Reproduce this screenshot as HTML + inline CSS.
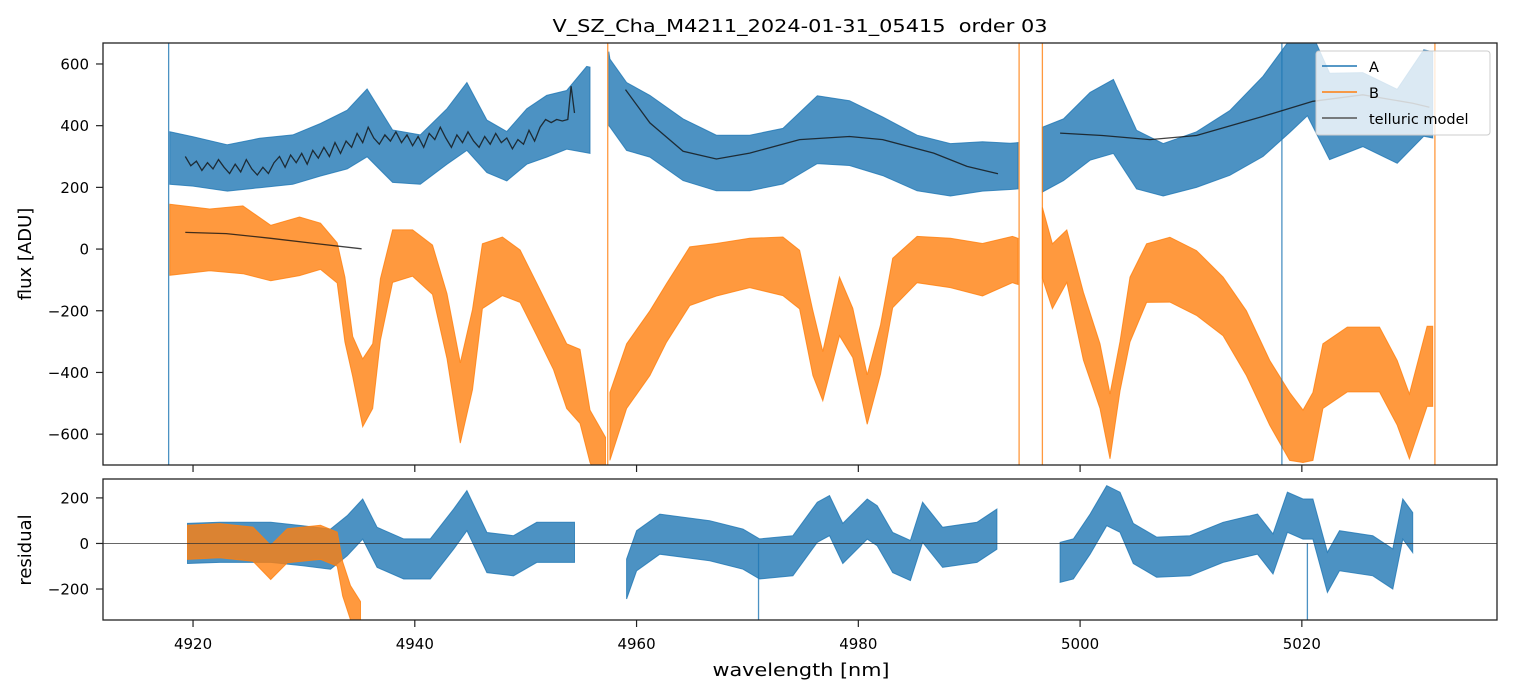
<!DOCTYPE html>
<html><head><meta charset="utf-8"><style>
body{margin:0;background:#fff;}
svg{display:block;font-family:"DejaVu Sans","Liberation Sans",sans-serif;}
</style></head><body>
<svg id="chart" width="1513" height="696" viewBox="0 0 1513 696">
<defs>
<clipPath id="cTop"><rect x="103" y="43" width="1394" height="422"/></clipPath>
<clipPath id="cBot"><rect x="103" y="479" width="1394" height="141"/></clipPath>
</defs>
<text x="800" y="32" font-size="18" text-anchor="middle" textLength="495" lengthAdjust="spacingAndGlyphs" xml:space="preserve">V_SZ_Cha_M4211_2024-01-31_05415  order 03</text>
<g id="gTop" clip-path="url(#cTop)"></g>
<g id="gBot" clip-path="url(#cBot)"></g>
<g id="axes"></g>
<text transform="translate(31,254) rotate(-90)" font-size="18" text-anchor="middle">flux [ADU]</text>
<text transform="translate(31,550) rotate(-90)" font-size="18" text-anchor="middle">residual</text>
<text x="801" y="676" font-size="18" text-anchor="middle" textLength="177" lengthAdjust="spacingAndGlyphs">wavelength [nm]</text>
<g>
<rect x="1316" y="51" width="174" height="84" fill="#fff" fill-opacity="0.8" stroke="#ccc" rx="3"/>
<line x1="1322" y1="66" x2="1357" y2="66" stroke="#1f77b4" stroke-width="1.5"/>
<text x="1369" y="72" font-size="14.5">A</text>
<line x1="1322" y1="92" x2="1357" y2="92" stroke="#ff7f0e" stroke-width="1.5"/>
<text x="1369" y="98" font-size="14.5">B</text>
<line x1="1322" y1="118" x2="1357" y2="118" stroke="#555" stroke-width="1.5"/>
<text x="1369" y="124" font-size="14.5">telluric model</text>
</g>
</svg>
<script>
// Series A flux (nm, ADU, noise half-width); null splits segments
const aWave = [4917.9,4920,4923.1,4926,4929,4931.5,4933.9,4935.7,4938,4940.5,4942.9,4944.7,4946.5,4948.3,4950.1,4951.9,4953.7,4955.5,4955.8,null,4957.5,4957.6,4959.1,4961.2,4964.2,4967.2,4970.2,4973.2,4976.3,4979.2,4982.2,4985.3,4988.3,4991.2,4993.7,4994.4,null,4996.6,4998.5,5000.9,5003,5005.1,5007.5,5010.5,5013.5,5016.5,5018.9,5020.5,5022.5,5025.5,5028.6,5031,5031.8];
const aFlux = [295,284,263,279,290,322,355,409,301,290,365,430,333,301,365,398,419,452,450,null,520,506,430,398,322,279,279,301,387,376,333,279,257,268,268,270,null,290,322,398,430,290,257,290,344,430,528,582,430,452,398,506,500];
const aSpread = [85,80,75,80,80,85,95,110,85,80,90,110,85,80,90,100,95,140,140,null,120,110,110,100,100,90,90,90,110,105,95,90,85,80,75,75,null,105,100,110,120,95,85,90,105,130,150,150,140,120,120,140,140];
// Series B flux
const bWave = [4917.9,4921.5,4924.5,4927,4929.6,4931.5,4933,4933.7,4934.4,4935.3,4936.2,4936.9,4938,4939.8,4941.6,4942.9,4944.1,4945.2,4946.1,4947.9,4949.5,4951,4952.5,4953.7,4954.9,4955.8,4957.2,null,4957.6,4959.1,4961.2,4962.7,4964.8,4967.2,4970.2,4973.2,4974.7,4975.9,4976.8,4978.3,4979.5,4980.8,4982,4983.1,4985.3,4988.3,4991.2,4993.9,4994.4,null,4996.6,4997.5,4998.8,5000.3,5001.8,5002.7,5003.6,5004.5,5006,5008.1,5010.5,5012.9,5015,5017.1,5018.9,5020.1,5021,5021.9,5024.1,5027,5028.6,5029.7,5031.3,5031.8];
const bFlux = [30,30,30,-13,9,9,-45,-196,-348,-466,-412,-196,-23,-13,-67,-250,-499,-326,-88,-56,-88,-196,-305,-412,-445,-607,-700,null,-575,-412,-305,-207,-88,-67,-45,-56,-99,-305,-412,-186,-272,-488,-326,-110,-34,-45,-67,-34,-40,null,20,-88,-23,-250,-412,-575,-380,-196,-78,-67,-110,-186,-305,-466,-575,-607,-575,-412,-358,-358,-466,-575,-380,-380];
const bSpread = [115,100,110,90,95,75,65,105,65,110,105,100,85,75,80,105,130,130,105,95,85,85,85,105,120,85,90,null,110,105,105,95,95,85,80,95,95,105,80,95,80,80,80,80,75,80,85,75,75,null,115,105,85,110,105,105,80,105,95,105,105,95,105,105,110,85,110,105,105,105,105,105,130,130];
// Telluric models
const tWave1 = [4919.3,4919.8,4920.3,4920.8,4921.3,4921.8,4922.3,4922.8,4923.3,4923.8,4924.3,4924.8,4925.3,4925.8,4926.3,4926.8,4927.3,4927.8,4928.3,4928.8,4929.3,4929.8,4930.3,4930.8,4931.3,4931.8,4932.3,4932.8,4933.3,4933.8,4934.3,4934.8,4935.3,4935.8,4936.3,4936.8,4937.3,4937.8,4938.3,4938.8,4939.3,4939.8,4940.3,4940.8,4941.3,4941.8,4942.3,4942.8,4943.3,4943.8,4944.3,4944.8,4945.3,4945.8,4946.3,4946.8,4947.3,4947.8,4948.3,4948.8,4949.3,4949.8,4950.3,4950.8,4951.3,4951.8,4952.3,4952.8,4953.3,4953.8,4954.1,4954.4];
const tFlux1 = [300,270,285,255,280,260,290,265,245,275,250,290,260,240,265,245,280,300,265,305,280,310,275,320,295,330,300,345,310,350,330,375,345,395,360,340,370,350,380,345,370,335,365,330,375,355,395,360,330,370,345,380,350,330,365,340,375,345,360,325,355,340,385,350,395,420,410,420,415,420,528,441];
const tWave2 = [4959,4961.2,4964.2,4967.2,4970.2,4974.7,4979.2,4982.2,4986.8,4989.8,4992.6];
const tFlux2 = [517,409,317,292,311,355,365,355,311,268,244];
const tWave3 = [4998.2,5002,5006.3,5010.5,5016.5,5021,5025.5,5030,5031.5];
const tFlux3 = [376,368,355,368,430,479,500,473,460];
const tWave4 = [4919.3,4923,4927,4931,4935.2];
const tFlux4 = [54,50,35,18,1];
// Residuals
const rWave = [4919.5,4922.4,4927,4929.9,4932.4,4933.9,4935.3,4936.6,4939,4941.4,4943.5,4944.7,4946.5,4948.9,4951,4954,4954.4,null,4959.1,4960,4962.1,4966.6,4969.6,4971.1,4974.1,4976.3,4977.4,4978.6,4980.8,4981.7,4983.1,4984.7,4985.8,4987.6,4990.7,4992.5,null,4998.2,4999.4,5000.9,5002.4,5003.6,5004.8,5006.9,5009.9,5012.9,5016,5017.4,5018.7,5020.1,5021,5022.3,5023.4,5026.4,5028.2,5029.1,5030];
const rVal = [0,5,5,-10,-25,34,107,-17,-68,-68,63,144,-40,-54,5,5,5,null,-156,-32,41,12,-25,-68,-54,93,122,0,107,78,-40,-75,93,-17,5,63,null,-83,-68,41,166,137,0,-60,-54,5,41,-46,137,107,107,-127,-32,-54,-112,107,48];
const rbWave = [4919.5,4922.4,4925.4,4927,4928.5,4931.5,4933,4933.5,4934.2,4935.1];
const rbVal = [5,12,-3,-83,-10,5,-25,-156,-260,-330];
// Full-height vertical spikes (nm)
const spikeA = [4917.8,5018.2];
const spikeB = [4957.4,4994.5,4996.6,5032];
const resSpikeA = [4971.0,5020.5];
const xTicks = [4920,4940,4960,4980,5000,5020];
const yTicksTop = [600,400,200,0,-200,-400,-600];
const yTicksBot = [200,0,-200];

const X = w => 103 + (w - 4911.88) / (5037.6 - 4911.88) * 1394;
const YT = v => 43 + (668 - v) / (668 + 700) * 422;
const YB = v => 479 + (283 - v) / (283 + 336) * 141;
const NS = 'http://www.w3.org/2000/svg';
function mk(tag, attrs, parent){const e=document.createElementNS(NS,tag);for(const k in attrs)e.setAttribute(k,attrs[k]);parent.appendChild(e);return e;}
function segs(w, v, s){const out=[];let cur=[];for(let i=0;i<w.length;i++){if(w[i]===null){if(cur.length)out.push(cur);cur=[];}else cur.push([w[i],v[i],Array.isArray(s)?s[i]:s]);}if(cur.length)out.push(cur);return out;}
function band(w, v, s, Y, color, parent, name){
  segs(w,v,s).forEach(seg=>{
    const up=seg.map(p=>X(p[0]).toFixed(1)+','+Y(p[1]+p[2]).toFixed(1));
    const lo=seg.slice().reverse().map(p=>X(p[0]).toFixed(1)+','+Y(p[1]-p[2]).toFixed(1));
    const e=mk('polygon',{points:up.concat(lo).join(' '),fill:color,'fill-opacity':0.8,stroke:color,'stroke-opacity':0.8,'stroke-width':1},parent);
    
    
  });
}
function line(w, v, Y, color, sw, parent, name){
  segs(w,v,0).forEach(seg=>{
    const e=mk('polyline',{points:seg.map(p=>X(p[0]).toFixed(1)+','+Y(p[1]).toFixed(1)).join(' '),fill:'none',stroke:color,'stroke-width':sw,'stroke-opacity':0.8},parent);
    
    
  });
}
function vspikes(arr, color, parent, y1, y2){
  arr.forEach(w=>{
    const e=mk('line',{x1:X(w),x2:X(w),y1:y1,y2:y2,stroke:color,'stroke-width':1.3,'stroke-opacity':0.8},parent);
    
    
  });
}
const gT=document.getElementById('gTop'), gB=document.getElementById('gBot'), gA=document.getElementById('axes');
band(aWave,aFlux,aSpread,YT,'#1f77b4',gT,'series-a-flux');
band(bWave,bFlux,bSpread,YT,'#ff7f0e',gT,'series-b-flux');
vspikes(spikeA,'#1f77b4',gT,43,465);
vspikes(spikeB,'#ff7f0e',gT,43,465);
line(tWave1,tFlux1,YT,'#111',1.3,gT,'telluric-model-a');
line(tWave2,tFlux2,YT,'#111',1.3,gT,'telluric-model-a');
line(tWave3,tFlux3,YT,'#111',1.3,gT,'telluric-model-a');
line(tWave4,tFlux4,YT,'#111',1.3,gT,'telluric-model-b');
band(rWave,rVal,88,YB,'#1f77b4',gB,'residual-a');
band(rbWave,rbVal,75,YB,'#ff7f0e',gB,'residual-b');
vspikes(resSpikeA,'#1f77b4',gB,543,620);
const z=mk('line',{x1:103,x2:1497,y1:YB(0),y2:YB(0),stroke:'#333','stroke-width':0.8},gB);


[[43,422],[479,141]].forEach(r=>{const e=mk('rect',{x:103,y:r[0],width:1394,height:r[1],fill:'none',stroke:'#222','stroke-width':1.3},gA);
  
  });
xTicks.forEach(t=>{
  mk('line',{x1:X(t),x2:X(t),y1:465,y2:472,stroke:'#222','stroke-width':1.2},gA);
  mk('line',{x1:X(t),x2:X(t),y1:620,y2:627,stroke:'#222','stroke-width':1.2},gA);
  const e=mk('text',{x:X(t),y:649,'font-size':15,'text-anchor':'middle'},gA);e.textContent=t;
  
  
});
yTicksTop.forEach(t=>{
  mk('line',{x1:96,x2:103,y1:YT(t),y2:YT(t),stroke:'#222','stroke-width':1.2},gA);
  const e=mk('text',{x:89,y:YT(t)+5.5,'font-size':15,'text-anchor':'end'},gA);e.textContent=t<0?'\u2212'+(-t):t;
  
  
});
yTicksBot.forEach(t=>{
  mk('line',{x1:96,x2:103,y1:YB(t),y2:YB(t),stroke:'#222','stroke-width':1.2},gA);
  const e=mk('text',{x:89,y:YB(t)+5.5,'font-size':15,'text-anchor':'end'},gA);e.textContent=t<0?'\u2212'+(-t):t;
  
  
});
</script>
</body></html>
